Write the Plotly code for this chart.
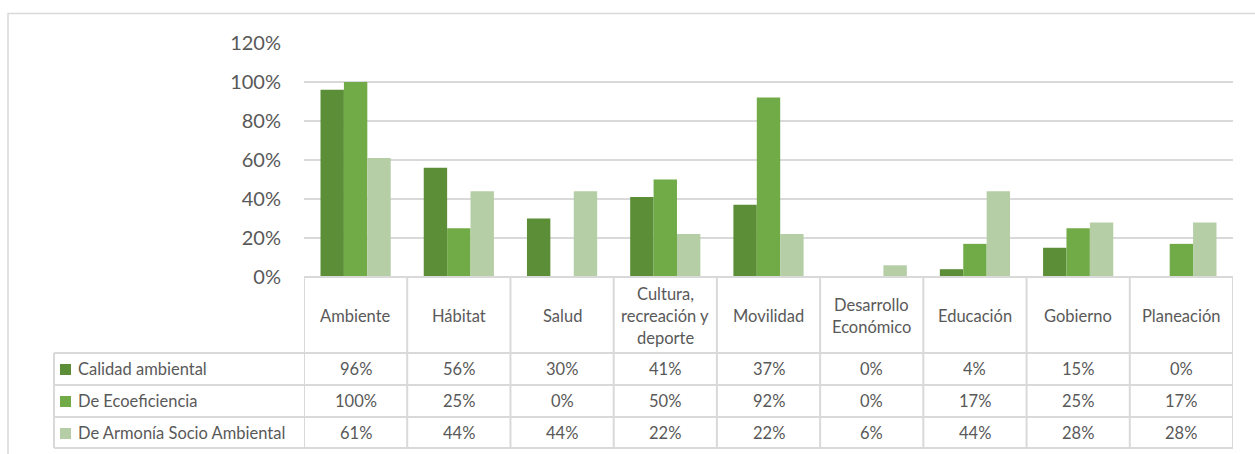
import plotly.graph_objects as go

# Categories (line breaks as shown in the table header)
categories = [
    "Ambiente",
    "Hábitat",
    "Salud",
    "Cultura,<br>recreación y<br>deporte",
    "Movilidad",
    "Desarrollo<br>Económico",
    "Educación",
    "Gobierno",
    "Planeación",
]

series_names = ["Calidad ambiental", "De Ecoeficiencia", "De Armonía Socio Ambiental"]
calidad_ambiental = [96, 56, 30, 41, 37, 0, 4, 15, 0]
ecoeficiencia = [100, 25, 0, 50, 92, 0, 17, 25, 17]
armonia_socio_ambiental = [61, 44, 44, 22, 22, 6, 44, 28, 28]
series_values = [calidad_ambiental, ecoeficiencia, armonia_socio_ambiental]
series_colors = ["#5B8E37", "#70AB47", "#B5CEA6"]

y_ticks = [0, 0.2, 0.4, 0.6, 0.8, 1.0, 1.2]

W, H = 1255, 454
FONT = "Lato"
TEXT = "#595959"
LINE = "#D9D9D9"
TABLE_FONT = 16.5


def px(x):
    return x / W


def py(y):
    return (H - y) / H


# Pixel layout of the plot area and the data table
PLOT_L, PLOT_R = 304, 1233
PLOT_TOP, PLOT_BOTTOM = 43, 277
TABLE_L = 54
ROW_LINES = [353, 385, 417, 448]
HEADER_CY = 316
ROW_CY = [369, 401, 433]

fig = go.Figure()
idx = list(range(len(categories)))
for name, vals, color in zip(series_names, series_values, series_colors):
    fig.add_trace(go.Bar(
        x=idx,
        y=[v / 100 for v in vals],
        name=name,
        marker=dict(color=color, line=dict(width=0)),
        showlegend=False,
        hoverinfo="skip",
    ))

shapes = []
annotations = []

# Outer chart frame
shapes.append(dict(type="rect", xref="paper", yref="paper",
                   x0=px(8), x1=px(W + 10), y0=py(H + 10), y1=py(13.5),
                   line=dict(color=LINE, width=1.5), layer="below"))

# Table horizontal rules
shapes.append(dict(type="line", xref="paper", yref="paper",
                   x0=px(PLOT_L), x1=px(PLOT_R), y0=py(PLOT_BOTTOM), y1=py(PLOT_BOTTOM),
                   line=dict(color=LINE, width=2)))
for yl in ROW_LINES:
    shapes.append(dict(type="line", xref="paper", yref="paper",
                       x0=px(TABLE_L), x1=px(PLOT_R), y0=py(yl), y1=py(yl),
                       line=dict(color=LINE, width=2)))

# Table vertical rules
shapes.append(dict(type="line", xref="paper", yref="paper",
                   x0=px(TABLE_L), x1=px(TABLE_L), y0=py(ROW_LINES[0]), y1=py(ROW_LINES[-1]),
                   line=dict(color=LINE, width=2)))
for i in range(len(categories) + 1):
    shapes.append(dict(type="line", xref="x", yref="paper",
                       x0=i - 0.5, x1=i - 0.5, y0=py(PLOT_BOTTOM), y1=py(ROW_LINES[-1]),
                       line=dict(color=LINE, width=2)))

# Header cells (category names)
LINE_STEP = 22
for i, cat in enumerate(categories):
    lines = cat.split("<br>")
    n = len(lines)
    for k, txt in enumerate(lines):
        cy = HEADER_CY + (k - (n - 1) / 2) * LINE_STEP
        annotations.append(dict(x=i, y=py(cy), xref="x", yref="paper", text=txt,
                                showarrow=False, xanchor="center", yanchor="middle",
                                font=dict(family=FONT, size=TABLE_FONT, color=TEXT)))

# Data rows with legend keys
for r, (name, vals, color) in enumerate(zip(series_names, series_values, series_colors)):
    cy = ROW_CY[r]
    shapes.append(dict(type="rect", xref="paper", yref="paper",
                       x0=px(60), x1=px(71), y0=py(cy + 6), y1=py(cy - 5),
                       fillcolor=color, line=dict(width=0)))
    annotations.append(dict(x=px(76), y=py(cy), xref="paper", yref="paper", text=name,
                            showarrow=False, xanchor="left", yanchor="middle",
                            font=dict(family=FONT, size=TABLE_FONT, color=TEXT)))
    for i, v in enumerate(vals):
        annotations.append(dict(x=i, y=py(cy), xref="x", yref="paper", text=f"{v}%",
                                showarrow=False, xanchor="center", yanchor="middle",
                                font=dict(family=FONT, size=TABLE_FONT, color=TEXT)))

fig.update_layout(
    width=W, height=H,
    margin=dict(l=0, r=0, t=0, b=0, pad=0),
    paper_bgcolor="white",
    plot_bgcolor="white",
    barmode="group",
    bargap=0.32,
    bargroupgap=0,
    shapes=shapes,
    annotations=annotations,
    xaxis=dict(
        domain=[px(PLOT_L), px(PLOT_R)],
        range=[-0.5, len(categories) - 0.5],
        showticklabels=False, showgrid=False, zeroline=False, showline=False,
        automargin=False, fixedrange=True,
    ),
    yaxis=dict(
        domain=[py(PLOT_BOTTOM), py(PLOT_TOP)],
        range=[0, 1.2],
        tickvals=y_ticks,
        tickformat=".0%",
        showgrid=True, gridcolor=LINE, gridwidth=2,
        zeroline=False, showline=False,
        ticks="", ticklabelstandoff=22,
        tickfont=dict(family=FONT, size=20, color=TEXT),
        automargin=False, fixedrange=True,
    ),
)

fig.write_html("out.html")
